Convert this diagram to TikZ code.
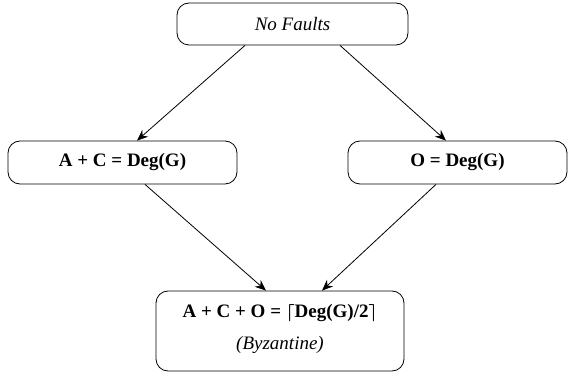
\documentclass[tikz,border=0pt]{standalone}
\usepackage{fontspec}
\setmainfont{Liberation Serif}
\usetikzlibrary{arrows.meta,calc}
\begin{document}
\begin{tikzpicture}[x=1pt,y=-1pt,
  box/.style={draw,line width=0.8pt,rounded corners=12pt,inner sep=0pt,align=center,font=\fontsize{19}{23}\selectfont},
  conn/.style={line width=0.8pt,-{Stealth[length=11pt,width=9pt]}}]
\useasboundingbox (0,0) rectangle (574,377);
\node[box,minimum width=231pt,minimum height=42pt] (top) at (292.5,24) {\itshape No Faults};
\node[box,minimum width=229pt,minimum height=43pt] (left) at (122.5,162.5) {\bfseries A + C = Deg(G)};
\node[box,minimum width=219pt,minimum height=43pt] (right) at (457.5,162.5) {\bfseries O = Deg(G)};
\node[box,minimum width=248pt,minimum height=80pt] (bot) at (280,331) {\bfseries A + C + O = {\boldmath$\left\lceil\mbox{\bfseries Deg(G)/2}\right\rceil$}\\[9pt]\itshape (Byzantine)\\[-15pt]};
\draw[conn] ($(top.south)+(-47.5,0)$) -- ($(left.north)+(14.5,0)$);
\draw[conn] ($(top.south)+(47.5,0)$) -- ($(right.north)+(-11.5,0)$);
\draw[conn] ($(left.south)+(22.5,0)$) -- ($(bot.north)+(-14,0)$);
\draw[conn] ($(right.south)+(-21.5,0)$) -- ($(bot.north)+(42,0)$);
\end{tikzpicture}
\end{document}
